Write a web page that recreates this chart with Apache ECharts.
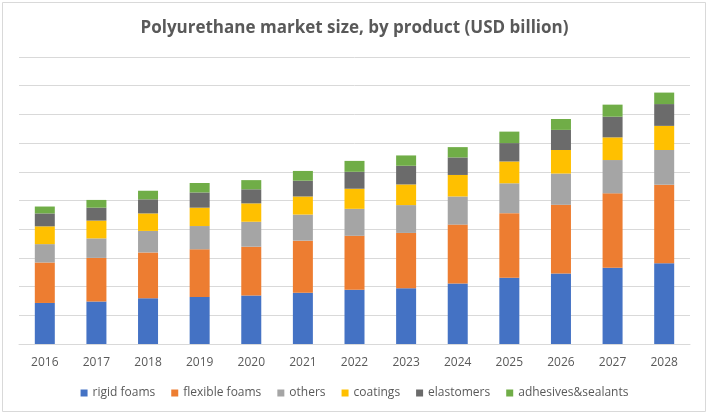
<!DOCTYPE html>
<html>
<head>
<meta charset="utf-8">
<style>
html,body{margin:0;padding:0;background:#fff;}
#chart{width:709px;height:415px;}
</style>
<script src="https://cdn.jsdelivr.net/npm/echarts@6/dist/echarts.min.js"></script>
</head>
<body>
<div id="chart"></div>
<script>
var years = ['2016','2017','2018','2019','2020','2021','2022','2023','2024','2025','2026','2027','2028'];
var rigidFoams      = [14.3, 14.8, 15.9, 16.4, 16.9, 17.9, 18.9, 19.4, 21.1, 23.1, 24.6, 26.6, 28.1];
var flexibleFoams   = [14.1, 15.2, 16.0, 16.6, 17.0, 18.1, 18.8, 19.3, 20.5, 22.5, 23.9, 25.9, 27.4];
var others          = [6.4, 6.8, 7.5, 8.1, 8.7, 9.1, 9.4, 9.7, 9.8, 10.4, 10.9, 11.6, 12.1];
var coatings        = [6.2, 6.2, 6.1, 6.4, 6.4, 6.3, 7.0, 7.2, 7.5, 7.6, 8.2, 7.9, 8.4];
var elastomers      = [4.5, 4.5, 4.9, 5.3, 4.9, 5.5, 5.9, 6.5, 6.1, 6.4, 7.0, 7.2, 7.6];
var adhesives       = [2.4, 2.7, 3.0, 3.3, 3.2, 3.4, 3.8, 3.6, 3.6, 4.0, 3.8, 4.2, 4.0];

var seriesNames  = ['rigid foams','flexible foams','others','coatings','elastomers','adhesives&sealants'];
var seriesValues = [rigidFoams, flexibleFoams, others, coatings, elastomers, adhesives];
var seriesColors = ['#4472C4','#ED7D31','#A5A5A5','#FFC000','#6B6B6B','#70AD47'];

var FONT = '"Open Sans", "Noto Sans", sans-serif';
var chart = echarts.init(document.getElementById('chart'), null, {renderer:'canvas'});
chart.setOption({
  animation: false,
  backgroundColor: '#ffffff',
  title: {
    text: 'Polyurethane market size, by product (USD billion)',
    left: 'center',
    top: 15,
    textStyle: {fontFamily: FONT, fontSize: 17, fontWeight: 'bold', color: '#595959'}
  },
  legend: {
    data: seriesNames,
    left: 'center',
    top: 382,
    icon: 'rect',
    itemWidth: 7,
    itemHeight: 7,
    itemGap: 16,
    textStyle: {fontFamily: FONT, fontSize: 12, color: '#595959'}
  },
  grid: {left: 19, right: 19, top: 57, bottom: 71, containLabel: false},
  xAxis: {
    type: 'category',
    data: years,
    axisLine: {lineStyle: {color: '#D9D9D9', width: 1}},
    axisTick: {show: false},
    axisLabel: {fontFamily: FONT, fontSize: 12, color: '#595959', margin: 13}
  },
  yAxis: {
    type: 'value',
    min: 0,
    max: 100,
    interval: 10,
    axisLabel: {show: false},
    axisLine: {show: false},
    axisTick: {show: false},
    splitLine: {lineStyle: {color: '#D9D9D9', width: 1}}
  },
  graphic: [{
    type: 'rect',
    shape: {x: 2.5, y: 2.5, width: 703, height: 409},
    style: {fill: 'none', stroke: '#D9D9D9', lineWidth: 1},
    silent: true,
    z: 100
  }],
  series: seriesNames.map(function(n, i){
    return {
      name: n,
      type: 'bar',
      stack: 'total',
      barWidth: 20,
      data: seriesValues[i],
      itemStyle: {color: seriesColors[i]}
    };
  })
});
</script>
</body>
</html>
